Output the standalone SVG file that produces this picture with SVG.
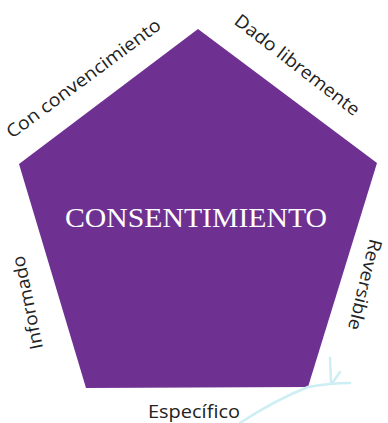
<svg xmlns="http://www.w3.org/2000/svg" width="388" height="423" viewBox="0 0 388 423">
<style>
.lbl{font-family:"Open Sans","Liberation Sans",sans-serif;font-size:18px;fill:#222;}
.title{font-family:"Liberation Serif","DejaVu Serif",serif;font-size:28px;fill:#ffffff;}
.sketch{fill:none;stroke:#CDEEF3;stroke-width:2.5;stroke-linecap:round;}
</style>
<rect width="388" height="423" fill="#ffffff"/>
<g id="consentimiento">
<polygon points="198,29 377,163 308,387 86,388 19,164" fill="#6F3191"/>
<text class="title" x="65" y="227" textLength="262" lengthAdjust="spacingAndGlyphs">CONSENTIMIENTO</text>
</g>
<g id="con-convencimiento">
<text class="lbl" transform="translate(12,139) rotate(-36.5)" textLength="187" lengthAdjust="spacingAndGlyphs">Con convencimiento</text>
</g>
<g id="dado-libremente">
<text class="lbl" transform="translate(233,23) rotate(37.8)" textLength="153" lengthAdjust="spacingAndGlyphs">Dado libremente</text>
</g>
<g id="reversible">
<text class="lbl" transform="translate(370,238) rotate(103.7)" textLength="93" lengthAdjust="spacingAndGlyphs">Reversible</text>
</g>
<g id="informado">
<text class="lbl" transform="translate(43,348) rotate(-101.5)" textLength="95" lengthAdjust="spacingAndGlyphs">Informado</text>
</g>
<g id="especifico">
<text class="lbl" x="148" y="418" textLength="92" lengthAdjust="spacingAndGlyphs">Específico</text>
</g>
<g id="connectors">
<path class="sketch" d="M240,423 Q275,400 308,387 Q330,383 350,383"/>
<path class="sketch" d="M330,358 L331,383 M340,372 L333,382"/>
</g>
</svg>
